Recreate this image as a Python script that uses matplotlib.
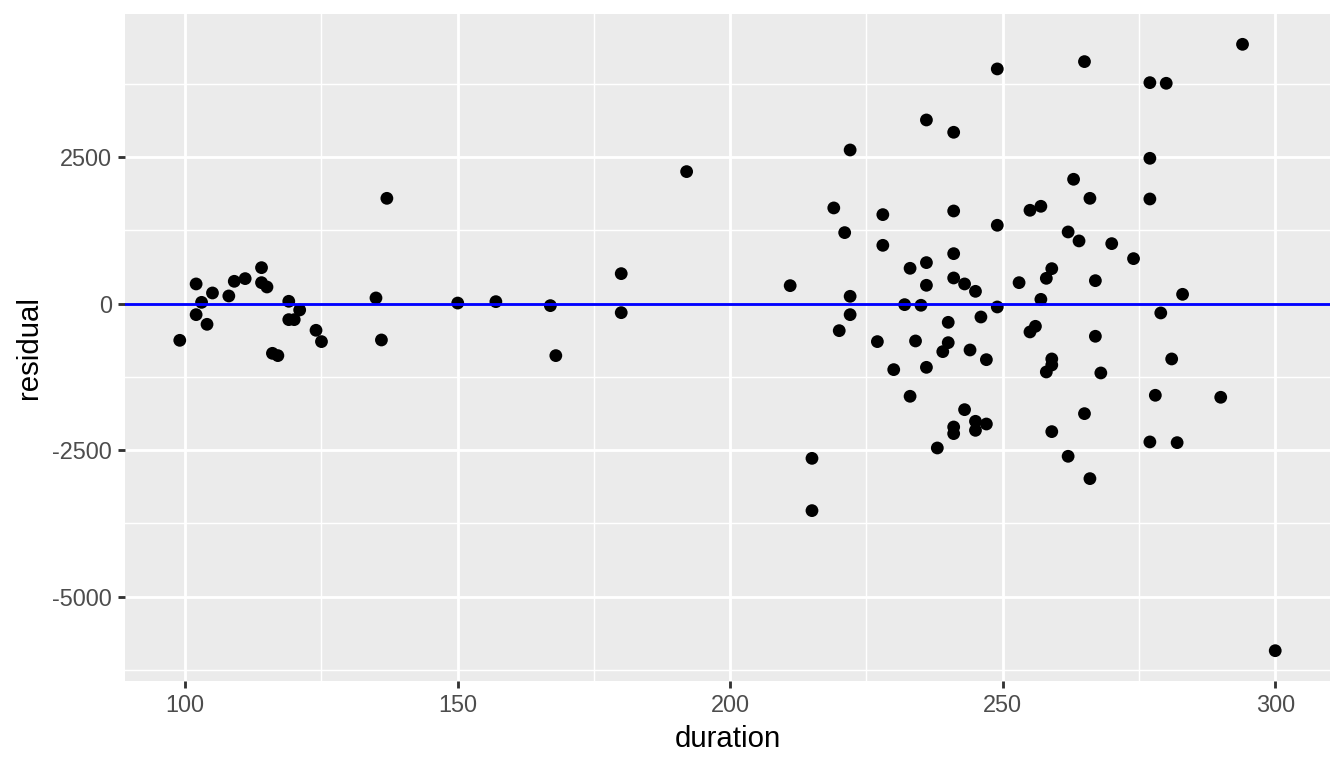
import numpy as np
from matplotlib import pyplot as plt
from matplotlib.ticker import MultipleLocator

plt.rcParams["font.family"] = ["Liberation Sans", "DejaVu Sans"]
plt.rcParams["axes.unicode_minus"] = False

# duration / residual pairs
duration = [
    99, 102, 102, 103, 104, 105, 108, 109, 111, 114, 114, 115, 116, 117,
    119, 119, 120, 121, 124, 125, 135, 136, 137,
    150, 157, 167, 168, 180, 180, 192,
    211, 215, 215, 219, 220, 221, 222, 222, 222, 227, 228, 228, 230,
    232, 233, 233, 234, 235, 236, 236, 236, 236, 238, 239, 240, 240,
    241, 241, 241, 241, 241, 241, 243, 243, 244, 245, 245, 245, 246,
    247, 247, 249, 249, 249, 253, 255, 255, 256, 257, 257, 258, 258,
    259, 259, 259, 259, 262, 262, 263, 264, 265, 265, 266, 266, 267,
    267, 268, 270, 274, 277, 277, 277, 277, 278, 279, 280, 281, 282,
    283, 290, 294, 300,
]
residual = [
    -626, 336, -188, 22, -353, 182, 131, 381, 427, 614, 358, 284, -848, -887,
    40, -273, -273, -108, -455, -648, 97, -620, 1797,
    10, 34, -34, -887, 512, -154, 2253,
    307, -2640, -3532, 1633, -461, 1212, 2622, 125, -188, -648, 1519, 995, -1126,
    -17, 603, -1581, -637, -28, 3134, 700, 313, -1087, -2463, -819, -319, -666,
    2924, 1581, 853, 438, -2105, -2218, 336, -1809, -791, 210, -2008, -2162, -228,
    -956, -2054, 4005, 1337, -57, 358, 1593, -483, -387, 1661, 73, 432, -1166,
    597, -944, -1047, -2184, 1223, -2605, 2122, 1070, 4130, -1877, 1797, -2986, 392,
    -557, -1183, 1024, 768, 3771, 2480, 1786, -2360, -1564, -159, 3760, -944, -2372,
    159, -1598, 4425, -5922,
]

x = np.array(duration)
y = np.array(residual)

fig = plt.figure(figsize=(7, 4), dpi=192)
ax = fig.add_axes([125 / 1344, 1 - 681 / 768, (1330 - 125) / 1344, (681 - 14) / 768])

ax.set_facecolor("#EBEBEB")
for s in ax.spines.values():
    s.set_visible(False)

# ggplot style 5% expansion
xpad = (x.max() - x.min()) * 0.05
ypad = (y.max() - y.min()) * 0.05
ax.set_xlim(x.min() - xpad, x.max() + xpad)
ax.set_ylim(y.min() - ypad, y.max() + ypad)

ax.xaxis.set_major_locator(MultipleLocator(50))
ax.xaxis.set_minor_locator(MultipleLocator(25))
ax.yaxis.set_major_locator(MultipleLocator(2500))
ax.yaxis.set_minor_locator(MultipleLocator(1250))
ax.grid(which="major", color="white", linewidth=1.07)
ax.grid(which="minor", color="white", linewidth=0.53)
ax.set_axisbelow(True)

ax.tick_params(which="major", length=2.75, width=1.07, color="#333333",
               labelcolor="#4D4D4D", labelsize=8.8, pad=2.2)
ax.tick_params(which="minor", length=0)

ax.scatter(x, y, s=23, color="black", edgecolors="none", zorder=3)
ax.axhline(0, color="blue", linewidth=1.07, zorder=4)

ax.set_xlabel("duration", fontsize=11, labelpad=2.75)
ax.set_ylabel("residual", fontsize=11, labelpad=3.5)

plt.savefig("out.png", dpi=192)
